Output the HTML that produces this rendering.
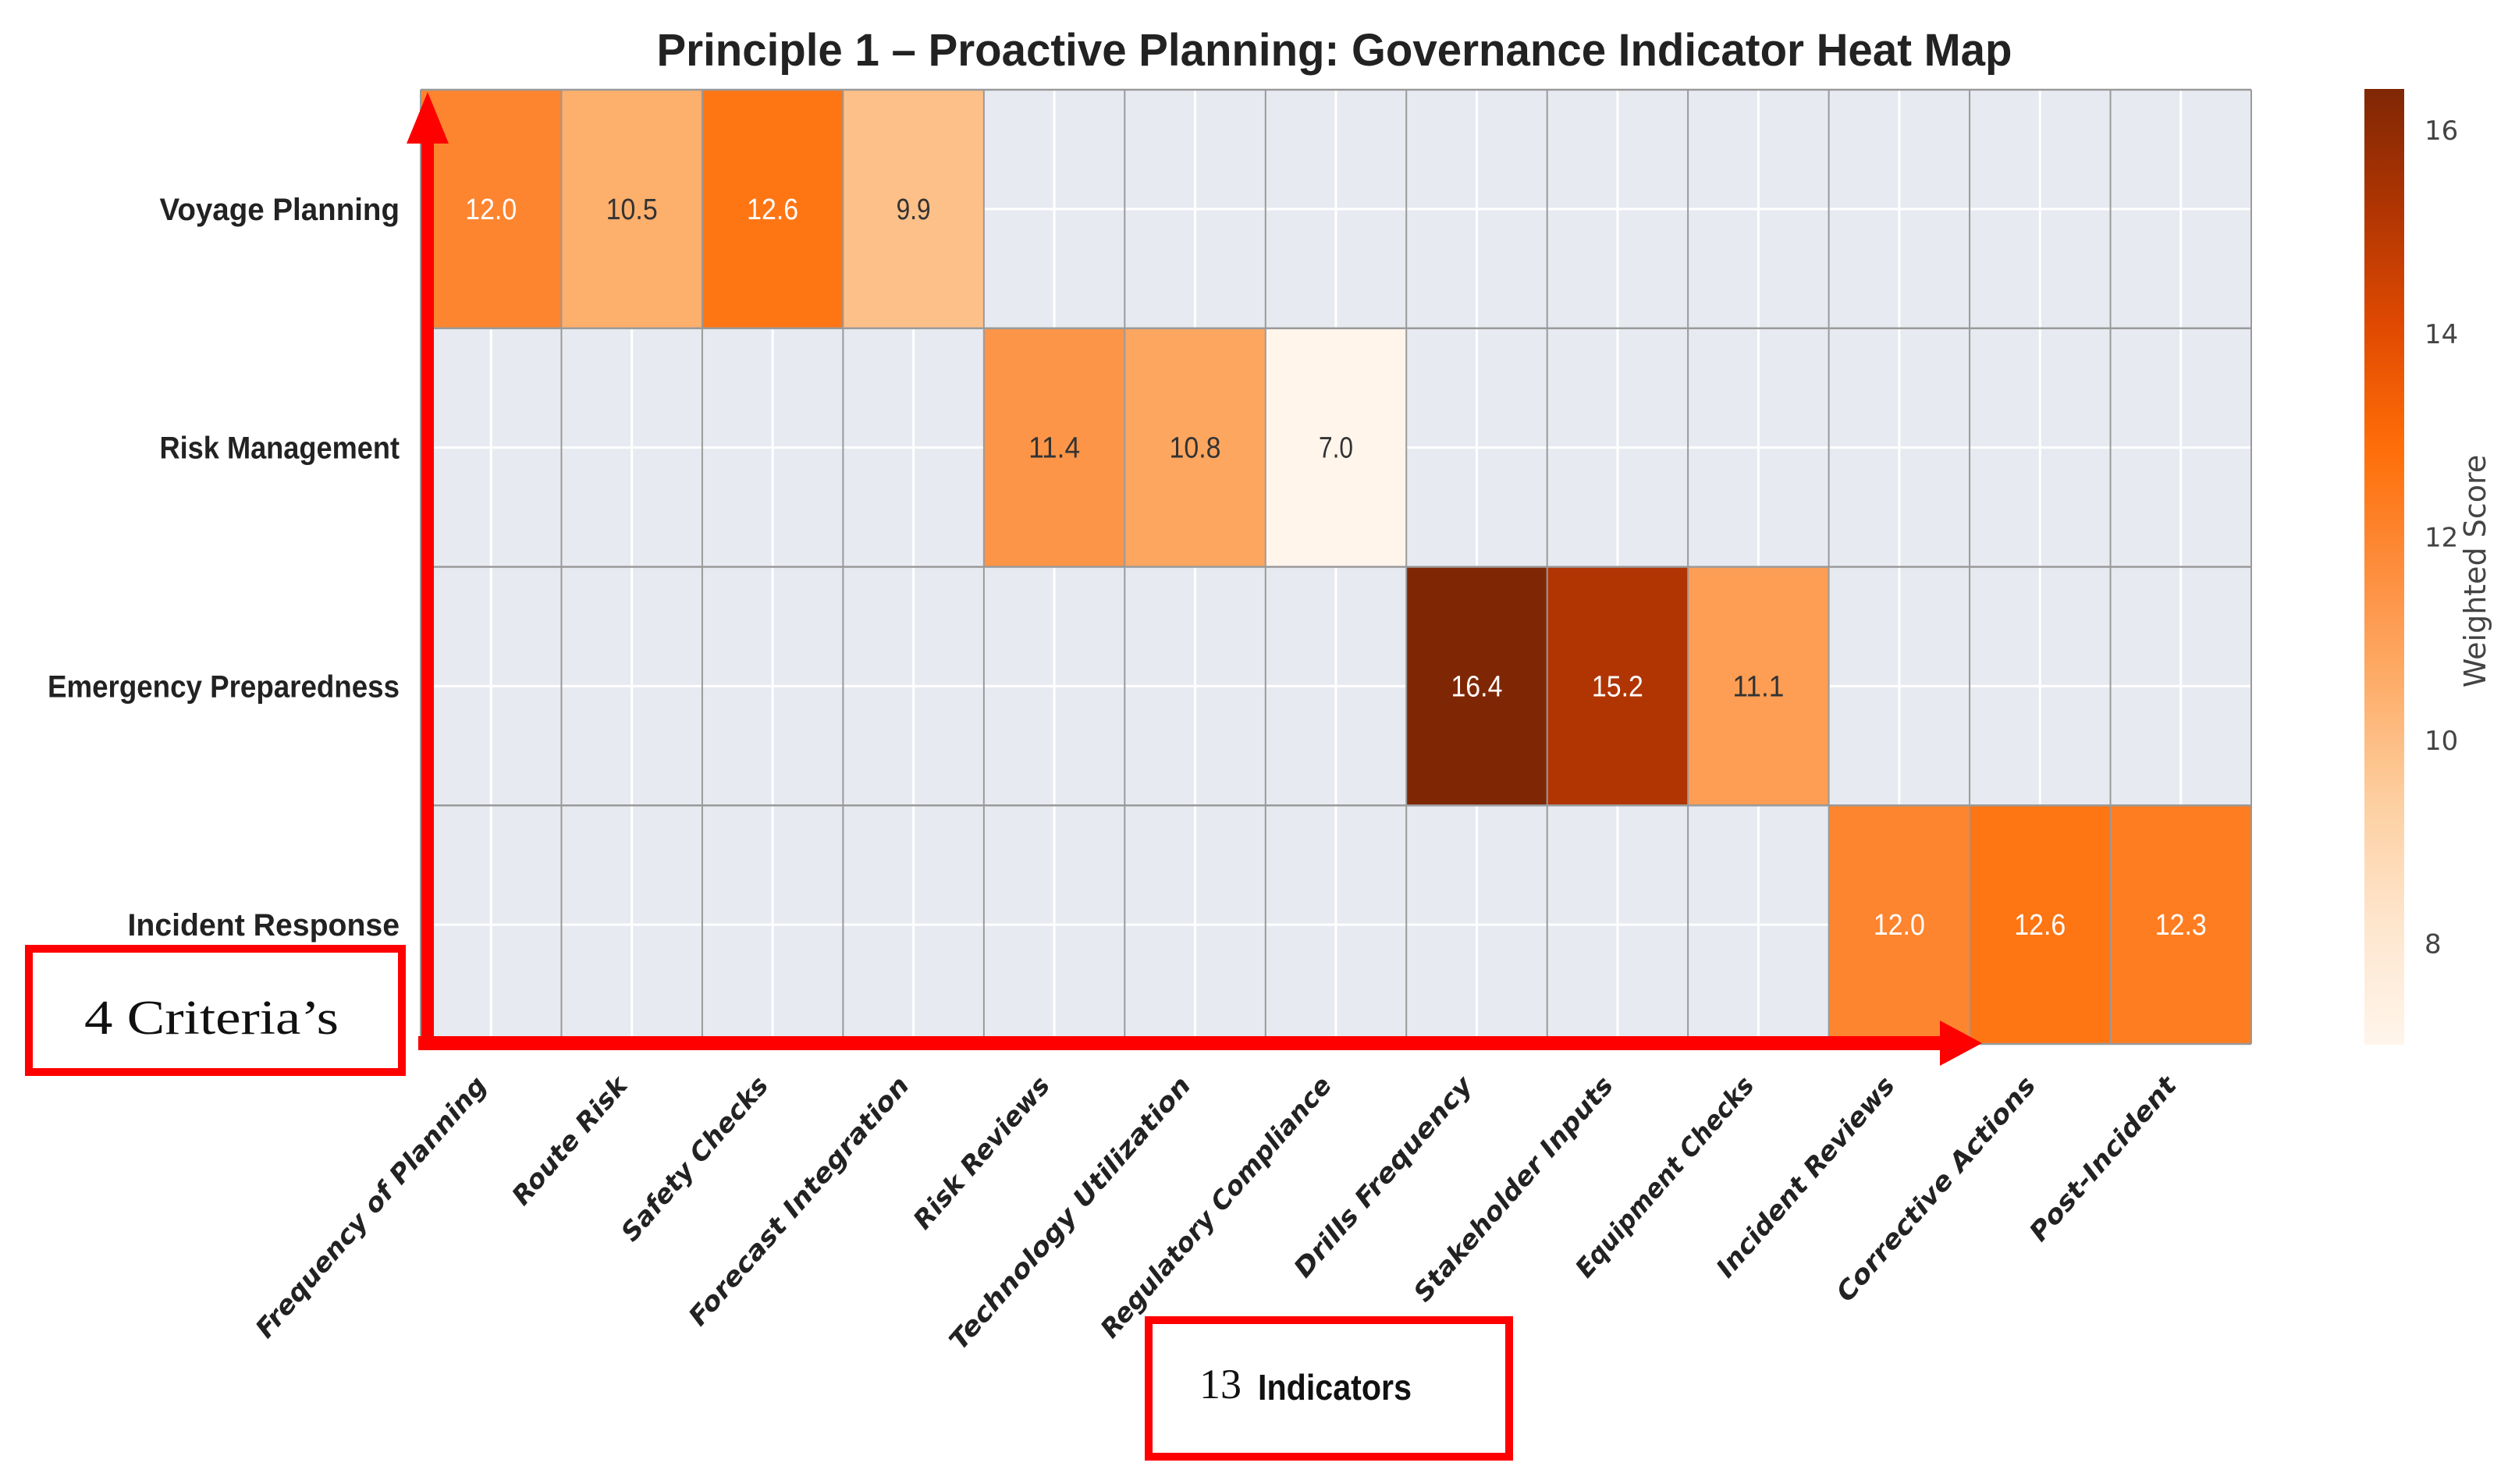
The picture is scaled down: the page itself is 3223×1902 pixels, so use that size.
<!DOCTYPE html>
<html><head><meta charset="utf-8">
<style>
html,body{margin:0;padding:0;background:#fff;}
svg{display:block;}
</style></head>
<body>
<svg id="chart" width="3223" height="1902" viewBox="0 0 3223 1902" xmlns="http://www.w3.org/2000/svg">
  <defs>
    <linearGradient id="cbar" x1="0" y1="1" x2="0" y2="0">
      <stop offset="0" stop-color="#fff5eb"/>
      <stop offset="0.125" stop-color="#fee6ce"/>
      <stop offset="0.25" stop-color="#fdd0a2"/>
      <stop offset="0.375" stop-color="#fdae6b"/>
      <stop offset="0.5" stop-color="#fd8d3c"/>
      <stop offset="0.625" stop-color="#fe6e08"/>
      <stop offset="0.75" stop-color="#e04a02"/>
      <stop offset="0.875" stop-color="#b03503"/>
      <stop offset="1" stop-color="#7f2704"/>
    </linearGradient>
  </defs>
  <text x="1710" y="84" text-anchor="middle" font-family="Liberation Sans, sans-serif" font-weight="bold" font-size="58" fill="#222" textLength="1737" lengthAdjust="spacingAndGlyphs">Principle 1 – Proactive Planning: Governance Indicator Heat Map</text>
  <g id="plot"></g>
  <g id="cb"></g>
</svg>
<script>
const rows = ["Voyage Planning","Risk Management","Emergency Preparedness","Incident Response"];
const cols = ["Frequency of Planning","Route Risk","Safety Checks","Forecast Integration","Risk Reviews","Technology Utilization","Regulatory Compliance","Drills Frequency","Stakeholder Inputs","Equipment Checks","Incident Reviews","Corrective Actions","Post-Incident"];
const values = [
  [12.0,10.5,12.6,9.9,null,null,null,null,null,null,null,null,null],
  [null,null,null,null,11.4,10.8,7.0,null,null,null,null,null,null],
  [null,null,null,null,null,null,null,16.4,15.2,11.1,null,null,null],
  [null,null,null,null,null,null,null,null,null,null,12.0,12.6,12.3]
];
const cbTicks = [8,10,12,14,16];
const vmin = 7.0, vmax = 16.4;

const NS = "http://www.w3.org/2000/svg";
const L = 539, R = 2885, T = 115, B = 1338;
const cw = (R - L) / cols.length, rh = (B - T) / rows.length;
const xAt = i => L + i * cw;
const yAt = j => T + j * rh;
const stops = [[0,[255,245,235]],[0.125,[254,230,206]],[0.25,[253,208,162]],[0.375,[253,174,107]],[0.5,[253,141,60]],[0.625,[254,110,8]],[0.75,[224,74,2]],[0.875,[176,53,3]],[1,[127,39,4]]];
function color(v){
  let t = Math.max(0, Math.min(1, (v - vmin) / (vmax - vmin)));
  for (let k = 1; k < stops.length; k++) {
    if (t <= stops[k][0]) {
      const a = stops[k-1], b = stops[k], f = (t - a[0]) / (b[0] - a[0]);
      const c = a[1].map((x, n) => Math.round(x + (b[1][n] - x) * f));
      return `rgb(${c.join(',')})`;
    }
  }
  return "rgb(127,39,4)";
}
function mk(tag, attrs, parent){
  const e = document.createElementNS(NS, tag);
  for (const k in attrs) e.setAttribute(k, attrs[k]);
  parent.appendChild(e); return e;
}
const plot = document.getElementById('plot');
mk('rect',{x:L,y:T,width:R-L,height:B-T,fill:'#e8eaf1'},plot);
for (let i = 0; i < cols.length; i++) mk('line',{x1:xAt(i)+cw/2,x2:xAt(i)+cw/2,y1:T,y2:B,stroke:'#fff','stroke-width':3},plot);
for (let j = 0; j < rows.length; j++) mk('line',{x1:L,x2:R,y1:yAt(j)+rh/2,y2:yAt(j)+rh/2,stroke:'#fff','stroke-width':3},plot);
for (let j = 0; j < rows.length; j++) {
  for (let i = 0; i < cols.length; i++) {
    const v = values[j][i];
    if (v === null) continue;
    const r = mk('rect',{x:xAt(i),y:yAt(j),width:cw,height:rh,fill:color(v)},plot);
    
    
    const t = mk('text',{x:xAt(i)+cw/2,y:yAt(j)+rh/2+13,'text-anchor':'middle','font-family':'Liberation Sans, sans-serif','font-size':38,fill:(v>=11.8?'#fff':'#333'),textLength:(v<10?44:66),lengthAdjust:'spacingAndGlyphs'},plot);
    t.textContent = v.toFixed(1);
    
    
  }
}
for (let i = 0; i <= cols.length; i++) mk('line',{x1:xAt(i),x2:xAt(i),y1:T,y2:B,stroke:'#9a9a9a','stroke-width':2},plot);
for (let j = 0; j <= rows.length; j++) mk('line',{x1:L,x2:R,y1:yAt(j),y2:yAt(j),stroke:'#9a9a9a','stroke-width':2.5},plot);
rows.forEach((name, j) => {
  const t = mk('text',{x:512,y:yAt(j)+rh/2+14,'text-anchor':'end','font-family':'Liberation Sans, sans-serif','font-weight':'bold','font-size':40,fill:'#222',textLength:name.length*20.5,lengthAdjust:'spacingAndGlyphs'},plot);
  t.textContent = name;
  
  
});
cols.forEach((name, i) => {
  const cx = xAt(i) + cw/2 - 4, cy = 1392;
  const t = mk('text',{x:cx,y:cy,'text-anchor':'end','font-family':'DejaVu Sans, sans-serif','font-style':'italic','font-weight':'bold','font-size':33,fill:'#222',transform:`rotate(-49 ${cx} ${cy})`,textLength:name.length*20.5,lengthAdjust:'spacingAndGlyphs'},plot);
  t.textContent = name;
  
  
});
const cb = document.getElementById('cb');
const cbT = 114, cbB = 1339, cbX = 3030, cbW = 51;
const cbY = v => cbB - (v - vmin) / (vmax - vmin) * (cbB - cbT);
mk('rect',{x:cbX,y:cbT,width:cbW,height:cbB-cbT,fill:'url(#cbar)'},cb);
cbTicks.forEach(v => {
  const t = mk('text',{x:3107,y:cbY(v)+13,'font-family':'DejaVu Sans, sans-serif','font-size':34,fill:'#444'},cb);
  t.textContent = v;
  
  
});
const ct = mk('text',{x:3185,y:732,'text-anchor':'middle','font-family':'DejaVu Sans, sans-serif','font-size':38,fill:'#444',transform:'rotate(-90 3185 732)'},cb);
ct.textContent = 'Weighted Score';


</script>
<svg style="position:absolute;left:0;top:0" width="3223" height="1902" xmlns="http://www.w3.org/2000/svg">
  <rect x="540" y="178" width="16" height="1168" fill="#ff0000"/>
  <polygon points="548,118 521,184 575,184" fill="#ff0000"/>
  <rect x="536" y="1328" width="1960" height="18" fill="#ff0000"/>
  <polygon points="2540,1337 2486,1308 2486,1366" fill="#ff0000"/>
  <rect x="37" y="1216" width="478" height="158" fill="#fff" stroke="#ff0000" stroke-width="10"/>
  <text x="108" y="1325" font-family="Liberation Serif, serif" font-size="62" fill="#111" textLength="326" lengthAdjust="spacingAndGlyphs">4 Criteria’s</text>
  <rect x="1472" y="1692" width="462" height="175" fill="#fff" stroke="#ff0000" stroke-width="10"/>
  <text x="1537" y="1792" font-family="Liberation Serif, serif" font-size="54" fill="#111">13</text>
  <text x="1612" y="1794" font-family="Liberation Sans, sans-serif" font-size="46" font-weight="bold" fill="#111" textLength="197" lengthAdjust="spacingAndGlyphs">Indicators</text>
</svg>
</body></html>
